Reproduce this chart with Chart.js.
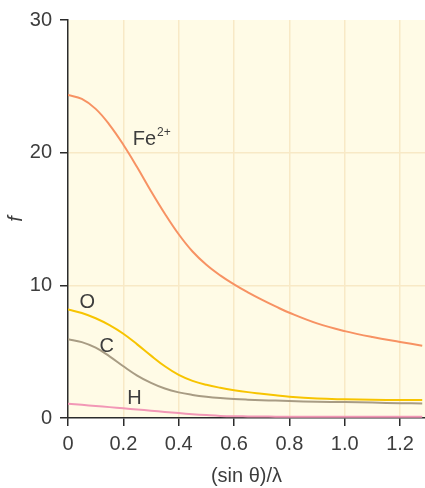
<!DOCTYPE html>
<html>
<head>
<meta charset="utf-8">
<script src="https://cdn.jsdelivr.net/npm/chart.js@4.4.1/dist/chart.umd.min.js"></script>
<style>
  html, body { margin: 0; padding: 0; background: #fff; }
  #wrap { width: 425px; height: 488px; }
</style>
</head>
<body>
<div id="wrap"><canvas id="chart" width="425" height="488"></canvas></div>
<script>
// (sin theta)/lambda values
const sinThetaOverLambda = [0, 0.05, 0.1, 0.15, 0.2, 0.25, 0.3, 0.35, 0.4, 0.45, 0.5, 0.55, 0.6, 0.65, 0.7, 0.75, 0.8, 0.9, 1.0, 1.1, 1.2, 1.28];
// scattering factor f for each atom / ion
const fFe2 = [24.35, 24.05, 23.3, 22.1, 20.6, 18.9, 17.1, 15.4, 13.85, 12.55, 11.55, 10.75, 10.07, 9.47, 8.92, 8.41, 7.93, 7.13, 6.55, 6.1, 5.73, 5.45];
const fO   = [8.18, 7.92, 7.52, 7.0, 6.35, 5.55, 4.7, 3.9, 3.25, 2.8, 2.5, 2.28, 2.1, 1.95, 1.83, 1.71, 1.6, 1.47, 1.41, 1.37, 1.35, 1.35];
const fC   = [5.93, 5.72, 5.3, 4.65, 3.9, 3.2, 2.65, 2.22, 1.93, 1.74, 1.6, 1.5, 1.43, 1.38, 1.34, 1.31, 1.28, 1.23, 1.2, 1.16, 1.12, 1.1];
const fH   = [1.07, 0.99, 0.91, 0.82, 0.73, 0.64, 0.55, 0.46, 0.37, 0.29, 0.22, 0.16, 0.13, 0.12, 0.11, 0.1, 0.1, 0.1, 0.1, 0.1, 0.1, 0.1];

const seriesNames = ['Fe', 'O', 'C', 'H'];
const seriesColors = ['#f79263', '#f7c400', '#a89c84', '#f297b6'];
// label anchors in data units: [x, y]
const labelAnchors = [[0.234, 21.0], [0.07, 8.7], [0.14, 5.4], [0.24, 1.5]];

const xTicks = [0, 0.2, 0.4, 0.6, 0.8, 1.0, 1.2];
const yTicks = [0, 10, 20, 30];

const textColor = '#3d3d3d';
const fontFamily = '"Liberation Sans", Arial, sans-serif';

function toPoints(ys) {
    return sinThetaOverLambda.map((x, i) => ({ x: x, y: ys[i] }));
}

const plotBackground = {
    id: 'plotBackground',
    beforeDraw(chart) {
        const { ctx, chartArea } = chart;
        ctx.save();
        ctx.fillStyle = '#fffbe6';
        ctx.fillRect(chartArea.left, chartArea.top, chartArea.right - chartArea.left, chartArea.bottom - chartArea.top);
        ctx.restore();
    }
};

const curveLabels = {
    id: 'curveLabels',
    afterDatasetsDraw(chart) {
        const { ctx, scales } = chart;
        ctx.save();
        ctx.fillStyle = textColor;
        ctx.textBaseline = 'middle';
        seriesNames.forEach((name, i) => {
            const px = scales.x.getPixelForValue(labelAnchors[i][0]);
            const py = scales.y.getPixelForValue(labelAnchors[i][1]);
            ctx.font = '20px ' + fontFamily;
            if (name === 'Fe') {
                ctx.textAlign = 'left';
                ctx.fillText('Fe', px, py);
                const w = ctx.measureText('Fe').width;
                ctx.font = '12px ' + fontFamily;
                ctx.fillText('2+', px + w + 1, py - 7);
            } else {
                ctx.textAlign = 'center';
                ctx.fillText(name, px, py);
            }
        });
        ctx.restore();
    }
};

const ctx = document.getElementById('chart').getContext('2d');
new Chart(ctx, {
    type: 'line',
    data: {
        datasets: [fFe2, fO, fC, fH].map((ys, i) => ({
            label: seriesNames[i],
            data: toPoints(ys),
            borderColor: seriesColors[i],
            borderWidth: 2,
            pointRadius: 0,
            fill: false,
            tension: 0.4
        }))
    },
    options: {
        responsive: false,
        animation: false,
        layout: { padding: { top: 17, right: 0, left: 0, bottom: 0 } },
        plugins: {
            legend: { display: false },
            tooltip: { enabled: false }
        },
        scales: {
            x: {
                type: 'linear',
                min: 0,
                max: 1.29,
                afterFit(scale) { scale.height = 70; },
                afterBuildTicks(scale) { scale.ticks = xTicks.map(v => ({ value: v })); },
                ticks: {
                    color: textColor,
                    font: { family: fontFamily, size: 20 },
                    padding: 6,
                    maxRotation: 0,
                    callback: v => v === 0 ? '0' : v.toFixed(1)
                },
                grid: {
                    color: c => c.tick && c.tick.value === 0 ? 'rgba(0,0,0,0)' : '#f8e9c6',
                    lineWidth: 1.5,
                    tickColor: '#2b2b2b',
                    tickLength: 8,
                    tickWidth: 1.5
                },
                border: { color: '#2b2b2b', width: 1.5 },
                title: {
                    display: true,
                    text: '(sin \u03b8)/\u03bb',
                    color: textColor,
                    font: { family: fontFamily, size: 20, lineHeight: 1.2 },
                    padding: { top: 0, bottom: 0 }
                }
            },
            y: {
                min: 0,
                max: 30,
                afterFit(scale) { scale.width = 68; },
                afterBuildTicks(scale) { scale.ticks = yTicks.map(v => ({ value: v })); },
                ticks: {
                    color: textColor,
                    font: { family: fontFamily, size: 20 },
                    padding: 8
                },
                grid: {
                    color: c => c.tick && (c.tick.value === 0 || c.tick.value === 30) ? 'rgba(0,0,0,0)' : '#f8e9c6',
                    lineWidth: 1.5,
                    tickColor: '#2b2b2b',
                    tickLength: 8,
                    tickWidth: 1.5
                },
                border: { color: '#2b2b2b', width: 1.5 },
                title: {
                    display: true,
                    text: 'f',
                    color: textColor,
                    font: { family: fontFamily, size: 20, style: 'italic', lineHeight: 1.2 },
                    padding: { top: 4, bottom: 0 }
                }
            }
        }
    },
    plugins: [plotBackground, curveLabels]
});
</script>
</body>
</html>
